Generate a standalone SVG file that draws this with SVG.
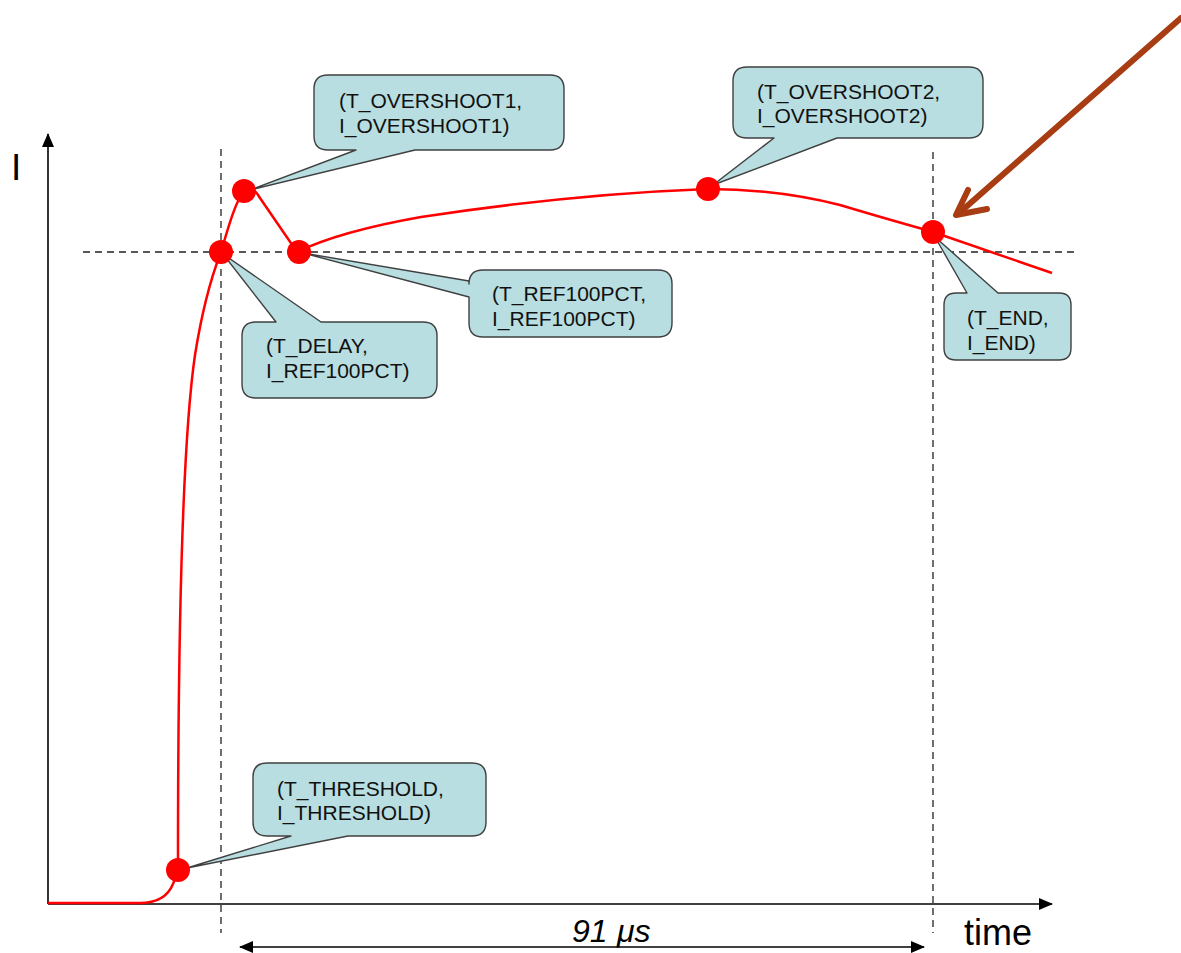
<svg xmlns="http://www.w3.org/2000/svg" width="1181" height="953" viewBox="0 0 1181 953">
<defs>
<style>
.axis{stroke:#000;stroke-width:1.6;fill:none}
.dash{stroke:#222;stroke-width:1.3;stroke-dasharray:7 5;fill:none}
.curve{stroke:#ff0000;stroke-width:2.5;fill:none}
.dot{fill:#ff0000}
.call{fill:#b8dee1;stroke:#404040;stroke-width:1.4;stroke-linejoin:round}
.lbl{font-family:"Liberation Sans",Arial,sans-serif;font-size:21px;fill:#111}
.big{font-family:"Liberation Sans",Arial,sans-serif;fill:#000}
</style>
<marker id="ah" viewBox="0 0 14 12" refX="13" refY="6" markerWidth="14" markerHeight="12" markerUnits="userSpaceOnUse" orient="auto-start-reverse">
<path d="M0,0 L14,6 L0,12 Z" fill="#000"/>
</marker>
</defs>
<rect width="1181" height="953" fill="#fff"/>

<g id="axes">
<line class="axis" x1="48" y1="904" x2="48" y2="134" marker-end="url(#ah)"/>
<line class="axis" x1="48" y1="904" x2="1052" y2="904" marker-end="url(#ah)"/>
<text class="big" x="11" y="180" font-size="37">I</text>
<text class="big" x="964" y="945" font-size="36">time</text>
</g>

<g id="guides">
<line class="dash" x1="221" y1="149" x2="221" y2="933"/>
<line class="dash" x1="933" y1="152" x2="933" y2="933"/>
<line class="dash" x1="83" y1="252" x2="1078" y2="252"/>
</g>

<g id="curve">
<path class="curve" d="M48,903 L140,903 C158,903 168,896 173,884 C177,876 178,870 178,860 C178,600 184,430 195,355 C203,305 212,275 221,252 C228,228 236,200 244,191 C250,185 255,190 260,198 L297,252 C330,236 370,226 421,217 C500,205 600,193 708,189 C760,189 800,195 840,205 C880,217 905,224 933,232 L1052,273"/>
</g>

<g id="dimension">
<line class="axis" x1="240" y1="947" x2="924" y2="947" marker-start="url(#ah)" marker-end="url(#ah)"/>
<text class="big" x="572" y="942" font-size="32" font-style="italic">91<tspan x="617">μs</tspan></text>
</g>

<g id="connectors">
<path d="M1181,18 L958,214" stroke="#a83c12" stroke-width="6" stroke-linecap="round" fill="none"/>
<path d="M968,190 L956,215 L987,209" stroke="#a83c12" stroke-width="6" stroke-linecap="round" stroke-linejoin="round" fill="none"/>
</g>

<g id="threshold">
<path class="call" d="M267,763 H472 Q486,763 486,777 V822 Q486,836 472,836 H348 L187,868 L291,836 H267 Q253,836 253,822 V777 Q253,763 267,763 Z"/>
<text class="lbl" x="277" y="796">(T_THRESHOLD,</text>
<text class="lbl" x="277" y="820">I_THRESHOLD)</text>
<circle class="dot" cx="178" cy="870" r="12"/>
</g>

<g id="delay">
<path class="call" d="M256,322 H276 L223,254 L321,322 H423 Q437,322 437,336 V384 Q437,398 423,398 H256 Q242,398 242,384 V336 Q242,322 256,322 Z"/>
<text class="lbl" x="266" y="353">(T_DELAY,</text>
<text class="lbl" x="266" y="378">I_REF100PCT)</text>
<circle class="dot" cx="221" cy="252" r="12"/>
</g>

<g id="overshoot1">
<path class="call" d="M328,75 H550 Q564,75 564,89 V136 Q564,150 550,150 H415 L250,190 L356,150 H328 Q314,150 314,136 V89 Q314,75 328,75 Z"/>
<text class="lbl" x="339" y="108">(T_OVERSHOOT1,</text>
<text class="lbl" x="339" y="133">I_OVERSHOOT1)</text>
<circle class="dot" cx="244" cy="191" r="12"/>
</g>

<g id="ref100pct">
<path class="call" d="M483,270 H658 Q672,270 672,284 V323 Q672,337 658,337 H483 Q469,337 469,323 V297 L303,253 L469,281 V284 Q469,270 483,270 Z"/>
<text class="lbl" x="492" y="301">(T_REF100PCT,</text>
<text class="lbl" x="492" y="326">I_REF100PCT)</text>
<circle class="dot" cx="299" cy="252" r="12"/>
</g>

<g id="overshoot2">
<path class="call" d="M747,67 H969 Q983,67 983,81 V124 Q983,138 969,138 H837 L713,185 L774,138 H747 Q733,138 733,124 V81 Q733,67 747,67 Z"/>
<text class="lbl" x="757" y="99">(T_OVERSHOOT2,</text>
<text class="lbl" x="757" y="123">I_OVERSHOOT2)</text>
<circle class="dot" cx="708" cy="189" r="12"/>
</g>

<g id="end">
<path class="call" d="M956,293 H967 L935,237 L998,293 H1059 Q1071,293 1071,305 V348 Q1071,360 1059,360 H956 Q944,360 944,348 V305 Q944,293 956,293 Z"/>
<text class="lbl" x="967" y="325">(T_END,</text>
<text class="lbl" x="967" y="350">I_END)</text>
<circle class="dot" cx="933" cy="232" r="12"/>
</g>
</svg>
